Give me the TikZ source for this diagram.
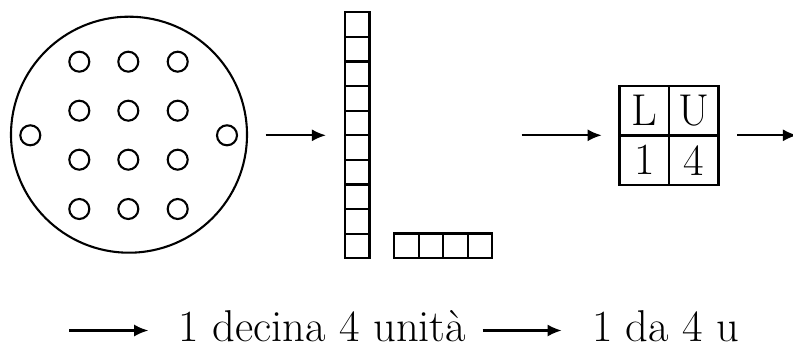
\documentclass[tikz,border=0pt]{standalone}
\usepackage{fontspec}
\newfontfamily\bigrm{lmroman17-regular}[Extension=.otf]
\usetikzlibrary{arrows.meta}
\begin{document}
\begin{tikzpicture}[x=0.24pt,y=-0.24pt,line width=0.5pt,
  font=\bigrm\fontsize{10.7pt}{13pt}\selectfont,
  arr/.style={-{Latex[length=3.4pt,width=2.9pt]}},
  dot/.style={draw,circle,minimum size=4.8pt,inner sep=0pt},
  sq/.style={draw,minimum size=5.9pt,inner sep=0pt},
  cell/.style={draw,minimum size=11.88pt,inner sep=0pt},
  lbl/.style={inner sep=0pt,anchor=base west}]
\useasboundingbox (0,0) rectangle (793,347);
% big circle with dots
\node[draw,circle,minimum size=56.64pt,inner sep=0pt] (big) at (129,134.7) {};
\foreach \i/\x in {1/79.3,2/128.3,3/177.7}
  \foreach \j/\y in {1/61.7,2/110.7,3/159.7,4/209}
    \node[dot] (d\i\j) at (\x,\y) {};
\node[dot] (dl) at (30.3,135.3) {};
\node[dot] (dr) at (227,135.3) {};
% column of ten squares
\foreach \k in {0,...,9}
  \node[sq] (c\k) at (357.2,{24.6+24.6*\k}) {};
% row of four squares
\foreach \k in {0,...,3}
  \node[sq] (u\k) at ({406.3+24.6*\k},245.8) {};
% table
\node[cell] (tL) at (644.25,110.75) {L};
\node[cell] (tU) at (693.75,110.75) {U};
\node[cell] (t1) at (644.25,160.25) {1};
\node[cell] (t4) at (693.75,160.25) {4};
% arrows upper row
\coordinate (a1s) at (265.7,135.3);
\coordinate (a1e) at (326,135.3);
\coordinate (a2s) at (521.7,135.3);
\coordinate (a2e) at (601.7,135.3);
\coordinate (a3s) at (737.3,135.3);
\coordinate (a3e) at (797,135.3);
\draw[arr] (a1s) -- (a1e);
\draw[arr] (a2s) -- (a2e);
\draw[arr] (a3s) -- (a3e);
% bottom row
\node[lbl] (txt1) at (177.5,341.5) {1 decina 4 unità};
\node[lbl] (txt2) at (591,341.5) {1 da 4 u};
\coordinate (b1s) at (69.3,330.5);
\coordinate (b1e) at (148.3,330.5);
\coordinate (b2s) at (482.7,330.5);
\coordinate (b2e) at (561.7,330.5);
\draw[arr] (b1s) -- (b1e);
\draw[arr] (b2s) -- (b2e);
\end{tikzpicture}
\end{document}
